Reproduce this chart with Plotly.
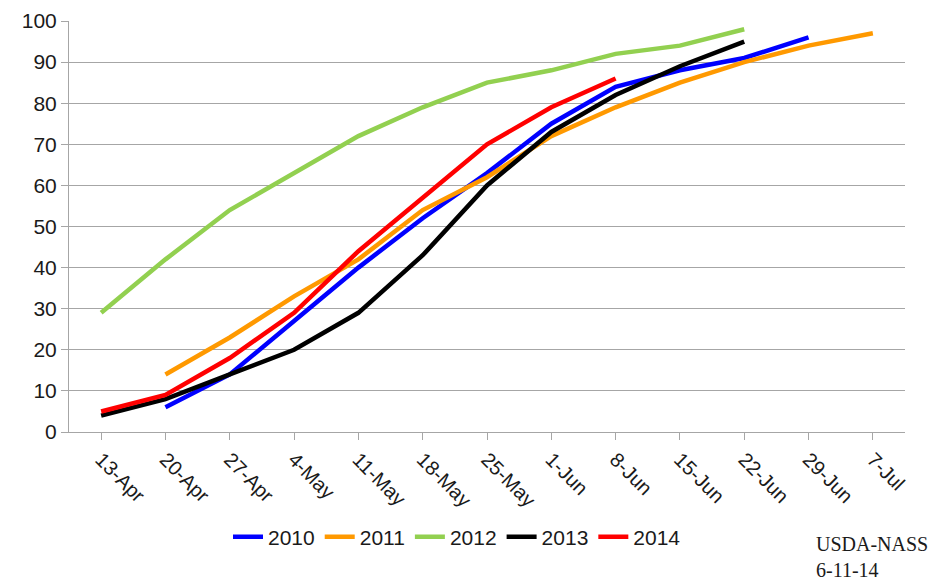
import plotly.graph_objects as go

categories = ["13-Apr", "20-Apr", "27-Apr", "4-May", "11-May", "18-May", "25-May",
              "1-Jun", "8-Jun", "15-Jun", "22-Jun", "29-Jun", "7-Jul"]
y2010 = [None, 6, 14, 27, 40, 52, 63, 75, 84, 88, 91, 96, None]
y2011 = [None, 14, 23, 33, 42, 54, 62, 72, 79, 85, 90, 94, 97]
y2012 = [29, 42, 54, 63, 72, 79, 85, 88, 92, 94, 98, None, None]
y2013 = [4, 8, 14, 20, 29, 43, 60, 73, 82, 89, 95, None, None]
y2014 = [5, 9, 18, 29, 44, 57, 70, 79, 86, None, None, None, None]
series_names = ["2010", "2011", "2012", "2013", "2014"]
series_values = [y2010, y2011, y2012, y2013, y2014]
colors = ["#0000FF", "#FF9900", "#92D050", "#000000", "#FF0000"]
y_ticks = [0, 10, 20, 30, 40, 50, 60, 70, 80, 90, 100]

FONT = "Liberation Sans, Arial, sans-serif"
GRID = "#A6A6A6"
OFF = 8  # page body margin
W, H = 937 - OFF, 582 - OFF
L, R, T, B = 69 - OFF, 32, 21 - OFF, 150
PW = W - L - R
PH = H - T - B


def px_x(x):
    return (x - OFF - L) / PW


def px_y(y):
    return (H - B - (y - OFF)) / PH


fig = go.Figure()
for name, vals, col in zip(series_names, series_values, colors):
    fig.add_trace(go.Scatter(
        x=categories, y=vals, name=name, mode="lines",
        line=dict(color=col, width=4.5), connectgaps=False,
    ))

fig.update_layout(
    width=W, height=H,
    margin=dict(l=L, r=R, t=T, b=B, autoexpand=False),
    paper_bgcolor="white", plot_bgcolor="white",
    font=dict(family=FONT, size=21, color="#1a1a1a"),
    showlegend=True,
    legend=dict(orientation="h", x=px_x(228), xanchor="left",
                y=px_y(537), yanchor="middle",
                font=dict(size=21, family=FONT, color="#1a1a1a"),
                itemwidth=30, tracegroupgap=0),
)
fig.update_xaxes(
    type="category", categoryorder="array", categoryarray=categories,
    range=[-0.5, len(categories) - 0.5], automargin=False,
    showgrid=False, showline=True, linecolor=GRID, linewidth=1,
    ticks="outside", ticklen=7, tickcolor=GRID, tickangle=45,
    tickfont=dict(size=20, family=FONT, color="#1a1a1a"),
)
fig.update_yaxes(
    range=[0, 100], tickvals=y_ticks, automargin=False,
    showgrid=True, gridcolor=GRID, gridwidth=1, zeroline=False,
    showline=True, linecolor=GRID, linewidth=1,
    ticks="outside", ticklen=7, tickcolor=GRID,
    tickfont=dict(size=21, family=FONT, color="#1a1a1a"),
)
fig.add_annotation(
    text="USDA-NASS<br>6-11-14", xref="paper", yref="paper",
    x=px_x(814), y=px_y(531), xanchor="left", yanchor="top",
    showarrow=False, align="left",
    font=dict(family="Liberation Serif, Times New Roman, serif", size=20, color="#1a1a1a"),
)
fig.write_html("out.html", config={"displayModeBar": False})
